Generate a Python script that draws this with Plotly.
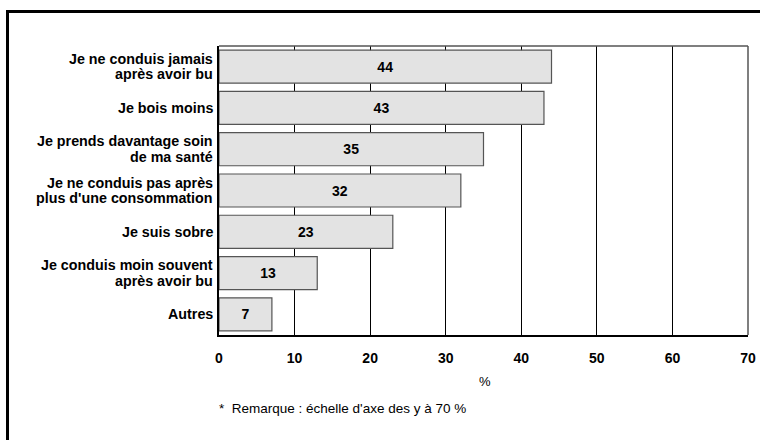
import plotly.graph_objects as go

categories = [
    "Je ne conduis jamais<br>après avoir bu",
    "Je bois moins",
    "Je prends davantage soin<br>de ma santé",
    "Je ne conduis pas après<br>plus d'une consommation",
    "Je suis sobre",
    "Je conduis moin souvent<br>après avoir bu",
    "Autres",
]
values = [44, 43, 35, 32, 23, 13, 7]
x_ticks = [0, 10, 20, 30, 40, 50, 60, 70]

FONT = "Liberation Sans, Arial, sans-serif"
LINE_GAP = 15.5  # px between the two lines of a wrapped category label

fig = go.Figure(
    go.Bar(
        y=categories,
        x=values,
        orientation="h",
        width=0.8,
        marker=dict(color="#e3e3e3", line=dict(color="#555555", width=1.2)),
        text=[f"<b>{v}</b>" for v in values],
        textposition="inside",
        insidetextanchor="middle",
        textfont=dict(family=FONT, size=14, color="#000000"),
        hoverinfo="skip",
    )
)

# category labels drawn line by line for a tight line spacing
label_annotations = []
for cat in categories:
    lines = cat.split("<br>")
    n = len(lines)
    for i, line in enumerate(lines):
        shift = ((n - 1) / 2 - i) * LINE_GAP
        label_annotations.append(
            dict(text=f"<b>{line}</b>", xref="paper", yref="y", x=0, y=cat,
                 xanchor="right", yanchor="middle", xshift=-5, yshift=shift,
                 showarrow=False, borderpad=0,
                 font=dict(family=FONT, size=14.3, color="#000000"))
        )

fig.update_layout(
    width=760,
    height=440,
    autosize=False,
    margin=dict(l=219, r=12, t=46, b=105, pad=0, autoexpand=False),
    paper_bgcolor="#ffffff",
    plot_bgcolor="#ffffff",
    showlegend=False,
    font=dict(family=FONT, color="#000000"),
    xaxis=dict(
        range=[0, 70],
        tickvals=x_ticks,
        ticktext=[f"<b>{t}</b>" for t in x_ticks],
        tickfont=dict(family=FONT, size=14, color="#000000"),
        showgrid=True,
        gridcolor="#000000",
        gridwidth=1,
        zeroline=False,
        showline=True,
        linecolor="#000000",
        linewidth=2,
        ticks="",
        ticklabelstandoff=9,
        automargin=False,
        fixedrange=True,
    ),
    yaxis=dict(
        autorange="reversed",
        tickvals=categories,
        showticklabels=False,
        showgrid=False,
        zeroline=False,
        showline=True,
        linecolor="#000000",
        linewidth=2,
        ticks="",
        automargin=False,
        fixedrange=True,
    ),
    shapes=[
        # top and right edges of the plotting area
        dict(type="line", xref="paper", yref="paper", x0=0, x1=1, y0=1, y1=1,
             line=dict(color="#555555", width=1.5), layer="above"),
        dict(type="line", xref="paper", yref="paper", x0=1, x1=1, y0=0, y1=1,
             line=dict(color="#555555", width=1.5), layer="above"),
        # outer frame: left and top thick rules
        dict(type="line", xref="paper", yref="paper",
             x0=-219 / 529 + 7.5 / 529, x1=-219 / 529 + 7.5 / 529,
             y0=-2, y1=1 + 34.5 / 289,
             line=dict(color="#000000", width=3)),
        dict(type="line", xref="paper", yref="paper",
             x0=-219 / 529 + 6 / 529, x1=2,
             y0=1 + 34.5 / 289, y1=1 + 34.5 / 289,
             line=dict(color="#000000", width=3)),
    ],
    annotations=label_annotations + [
        dict(text="%", xref="paper", yref="paper", x=(485 - 219) / 529, y=-(381 - 335) / 289,
             xanchor="center", yanchor="middle", showarrow=False,
             font=dict(family=FONT, size=13, color="#000000")),
        dict(text="*  Remarque : échelle d'axe des y à 70 %", xref="paper", yref="paper",
             x=(217 - 219) / 529, y=-(408 - 335) / 289,
             xanchor="left", yanchor="middle", showarrow=False,
             font=dict(family=FONT, size=13.5, color="#000000")),
    ],
)

fig.write_html("out.html")
